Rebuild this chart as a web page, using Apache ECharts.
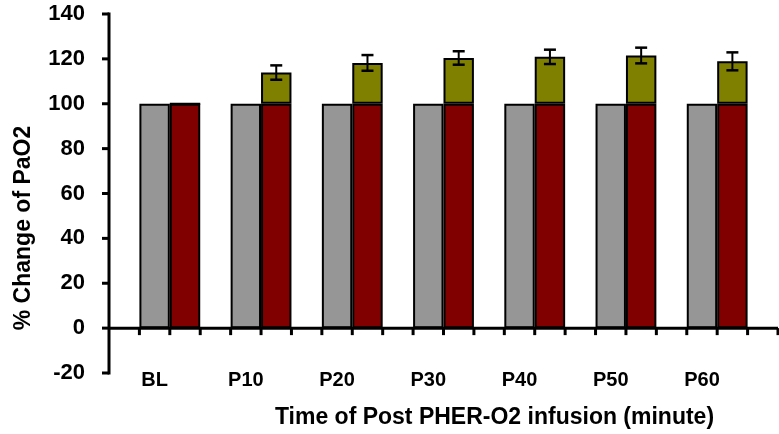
<!DOCTYPE html>
<html>
<head>
<meta charset="utf-8">
<script src="https://cdn.jsdelivr.net/npm/echarts@6/dist/echarts.min.js"></script>
<style>
  html, body { margin: 0; padding: 0; background: #fff; }
  #chart { width: 779px; height: 434px; }
</style>
</head>
<body>
<div id="chart"></div>
<script>
// Time points after infusion
const categories = ['BL', 'P10', 'P20', 'P30', 'P40', 'P50', 'P60'];
// Control group, % of baseline PaO2
const controlValues = [100, 100, 100, 100, 100, 100, 100];
// Treated group: baseline part and increase above baseline
const treatedBase = [100, 100, 100, 100, 100, 100, 100];
const treatedIncrease = [0, 13.9, 18.2, 20.4, 20.9, 21.5, 18.9];
// Error (± SE) on the treated total
const treatedError = [0, 3.2, 3.5, 3.0, 3.2, 3.5, 4.0];
// Y axis scale
const yMin = -20, yMax = 140, yStep = 20;
// Minor tick slots along the x axis (three per time point, plus the lead-in)
const xSlots = 22;

const FONT = '"Liberation Sans", Arial, sans-serif';

// Plot geometry
const axisLeft = 109, axisRight = 778, plotTop = 14, plotBottom = 373;
const step = (axisRight - axisLeft) / xSlots;   // minor tick spacing on x axis
const band = step * 3;                          // one category slot
const barW = step;                              // each bar fills one tick spacing
const catLeft = axisLeft + 2 * step - band / 2; // category band start

const treatedTotal = treatedBase.map((b, i) => b + treatedIncrease[i]);

const chart = echarts.init(document.getElementById('chart'));

// Frame and error bars, drawn on the slot scale (each time point spans 3 slots,
// the treated bar is centred half a slot right of the group centre)
function renderFrame(params, api) {
  const st = { stroke: '#000000', lineWidth: 3 };
  const children = [];
  const a = api.coord([0, yMax]);
  const b = api.coord([0, yMin]);
  children.push({ type: 'line', shape: { x1: a[0], y1: a[1] - 1.5, x2: b[0], y2: b[1] + 1.5 }, style: st });
  for (let v = yMin; v <= yMax; v += yStep) {
    const p = api.coord([0, v]);
    children.push({ type: 'line', shape: { x1: p[0] - 7, y1: p[1], x2: p[0], y2: p[1] }, style: st });
  }
  const c = api.coord([0, 0]);
  const d = api.coord([xSlots, 0]);
  children.push({ type: 'line', shape: { x1: c[0], y1: c[1], x2: d[0], y2: d[1] }, style: st });
  for (let k = 1; k <= xSlots; k++) {
    const p = api.coord([k, 0]);
    children.push({ type: 'line', shape: { x1: p[0], y1: p[1], x2: p[0], y2: p[1] + 7 }, style: st });
  }
  const cap = 6;
  const capSt = { stroke: '#000000', lineWidth: 2.5 };
  treatedTotal.forEach((val, i) => {
    const err = treatedError[i];
    if (!err) return;
    const slot = 3 * i + 2.5;
    const top = api.coord([slot, val + err]);
    const bot = api.coord([slot, val - err]);
    const x = top[0];
    children.push({ type: 'line', z2: 5, shape: { x1: x, y1: top[1], x2: x, y2: bot[1] }, style: { stroke: '#000000', lineWidth: 2 } });
    children.push({ type: 'line', z2: 5, shape: { x1: x - cap, y1: top[1], x2: x + cap, y2: top[1] }, style: capSt });
    children.push({ type: 'line', z2: 5, shape: { x1: x - cap, y1: bot[1], x2: x + cap, y2: bot[1] }, style: capSt });
  });
  return { type: 'group', children: children };
}

const option = {
  animation: false,
  backgroundColor: '#ffffff',
  grid: [
    { left: catLeft, top: plotTop, width: band * categories.length, height: plotBottom - plotTop },
    { left: axisLeft, top: plotTop, width: axisRight - axisLeft, height: plotBottom - plotTop }
  ],
  xAxis: [
    {
      type: 'category',
      gridIndex: 0,
      data: categories,
      axisLine: { show: false, onZero: false },
      axisTick: { show: false },
      axisLabel: {
        fontFamily: FONT, fontSize: 20, fontWeight: 'bold', color: '#000',
        margin: -3, lineHeight: 20,
        padding: [0, step, 0, 0]
      },
      splitLine: { show: false },
      name: 'Time of Post PHER-O2 infusion (minute)',
      nameLocation: 'middle',
      nameGap: 33,
      nameTextStyle: {
        fontFamily: FONT, fontSize: 23, fontWeight: 'bold', color: '#000',
        lineHeight: 23, padding: [0, 0, 0, 102]
      }
    },
    {
      type: 'value',
      gridIndex: 1,
      min: 0, max: xSlots, interval: 1,
      axisLine: { show: false },
      axisTick: { show: false },
      axisLabel: { show: false },
      splitLine: { show: false }
    }
  ],
  yAxis: [
    {
      type: 'value',
      gridIndex: 0,
      min: yMin, max: yMax, interval: yStep,
      show: false
    },
    {
      type: 'value',
      gridIndex: 1,
      min: yMin, max: yMax, interval: yStep,
      axisLine: { show: false },
      axisTick: { show: false },
      axisLabel: { fontFamily: FONT, fontSize: 22, fontWeight: 'bold', color: '#000', margin: 24 },
      splitLine: { show: false },
      name: '% Change of PaO2',
      nameLocation: 'middle',
      nameRotate: 90,
      nameGap: 74,
      nameTextStyle: {
        fontFamily: FONT, fontSize: 23, fontWeight: 'bold', color: '#000',
        lineHeight: 23, padding: [0, 69, 0, 0]
      }
    }
  ],
  series: [
    {
      name: 'Control',
      type: 'bar',
      xAxisIndex: 0, yAxisIndex: 0,
      data: controlValues,
      barWidth: barW,
      barGap: '0%',
      itemStyle: { color: '#969696', borderColor: '#000', borderWidth: 2 }
    },
    {
      name: 'PHER-O2 base',
      type: 'bar',
      stack: 'treated',
      xAxisIndex: 0, yAxisIndex: 0,
      data: treatedBase,
      barWidth: barW,
      barGap: '0%',
      itemStyle: { color: '#800000', borderColor: '#000', borderWidth: 2 }
    },
    {
      name: 'PHER-O2 increase',
      type: 'bar',
      stack: 'treated',
      xAxisIndex: 0, yAxisIndex: 0,
      data: treatedIncrease,
      barWidth: barW,
      barGap: '0%',
      itemStyle: { color: '#808000', borderColor: '#000', borderWidth: 2 }
    },
    {
      name: 'Frame',
      type: 'custom',
      xAxisIndex: 1, yAxisIndex: 1,
      z: 20,
      clip: false,
      data: [[0, 0]],
      renderItem: renderFrame
    }
  ]
};

chart.setOption(option);
</script>
</body>
</html>
